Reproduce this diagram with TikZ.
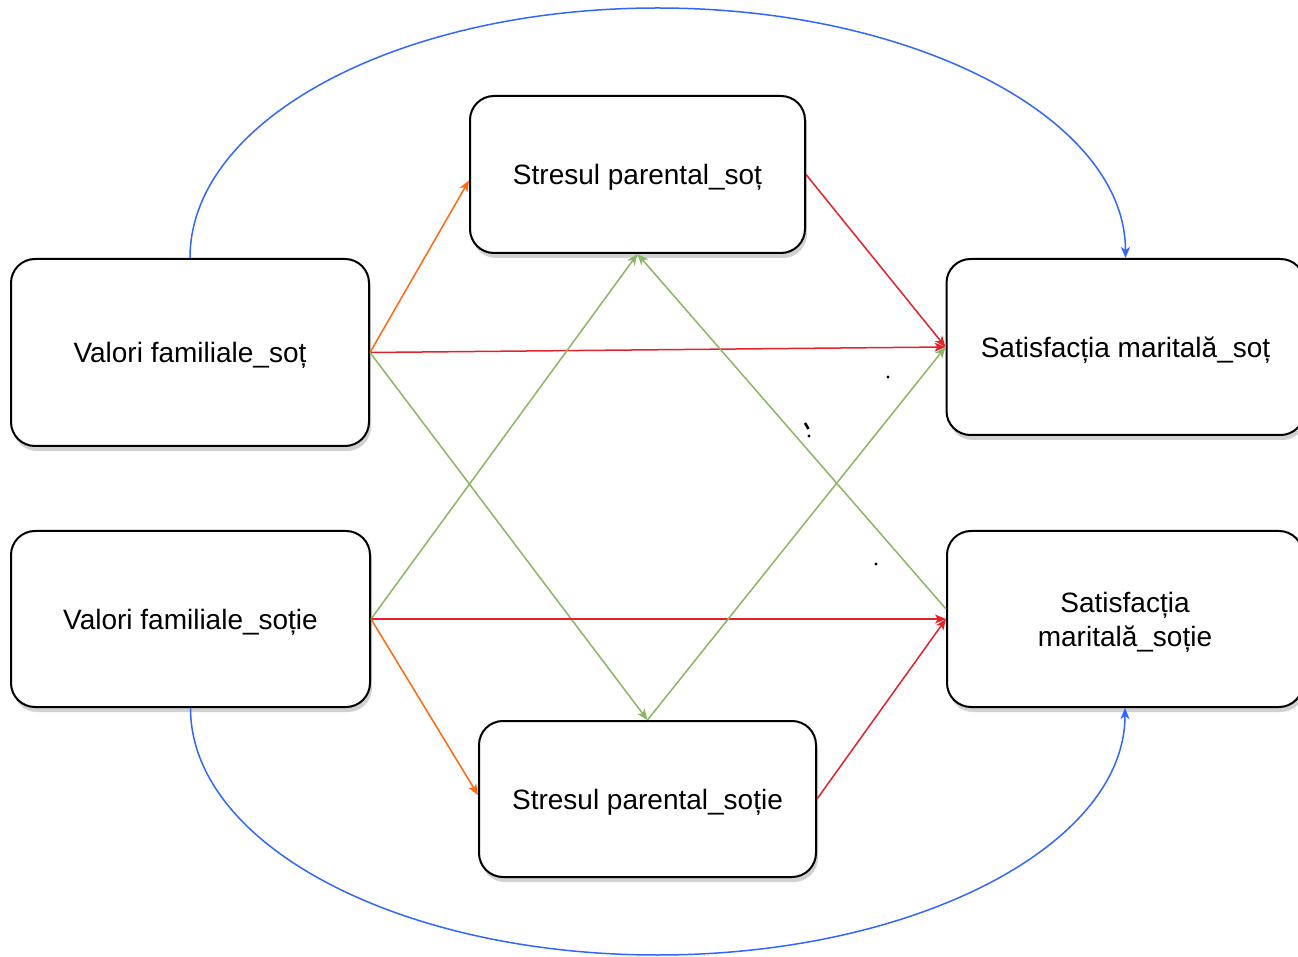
\documentclass[tikz,border=0pt]{standalone}
\usepackage{fontspec}
\setmainfont{Liberation Sans}
\usetikzlibrary{arrows.meta,shadows}
\definecolor{cOrange}{HTML}{FF6A10}
\definecolor{cRed}{HTML}{E3222A}
\definecolor{cGreen}{HTML}{8DB566}
\definecolor{cBlue}{HTML}{3366FF}
\tikzset{
  box/.style={draw=black, line width=1pt, rounded corners=12pt, fill=white,
    drop shadow={shadow xshift=1pt, shadow yshift=-2.5pt, opacity=0.18, fill=black},
    font=\fontsize{14pt}{17pt}\selectfont, align=center, inner sep=0pt, text depth=0pt},
  conn/.style={line width=0.75pt, -{Stealth[length=5.5pt,width=4.5pt,inset=1.5pt]}},
  orangeconn/.style={conn, draw=cOrange, fill=cOrange},
  redconn/.style={conn, draw=cRed, fill=cRed},
  greenconn/.style={conn, draw=cGreen, fill=cGreen},
  blueconn/.style={conn, draw=cBlue, fill=cBlue},
}
\begin{document}
\begin{tikzpicture}[x=0.5pt,y=-0.5pt]
\useasboundingbox (0,0) rectangle (1298,957);
\fill[white] (0,0) rectangle (1298,957);

\node[box, minimum width=179pt, minimum height=93.5pt] (VS) at (190,352.5) {Valori familiale\_soț};
\node[box, minimum width=179.5pt, minimum height=88pt] (VSo) at (190.5,619) {Valori familiale\_soție};
\node[box, minimum width=167.5pt, minimum height=78.5pt] (SPS) at (637.5,174.5) {Stresul parental\_soț};
\node[box, minimum width=168.5pt, minimum height=78pt] (SPSo) at (647.5,799) {Stresul parental\_soție};
\node[box, minimum width=179pt, minimum height=88pt] (SMS) at (1125.5,347) {Satisfacția maritală\_soț};
\node[box, minimum width=178pt, minimum height=88pt] (SMSo) at (1125,619) {Satisfacția\\maritală\_soție};

\coordinate (top) at (657.5,8);
\coordinate (bot) at (657.5,955);

% blue curves
\draw[blueconn, fill=none] (VS.north) .. controls +(0,-139) and +(-258,0) .. (top)
  .. controls +(258,0) and +(0,-139) .. (SMS.north);
\draw[blueconn, fill=none] (VSo.south) .. controls +(0,137) and +(-258,0) .. (bot)
  .. controls +(258,0) and +(0,137) .. (SMSo.south);

% from Valori familiale_sot
\draw[orangeconn] (VS.east) -- ([yshift=-3]SPS.west);
\draw[redconn] (VS.east) -- (SMS.west);
\draw[greenconn] (VS.east) -- (SPSo.north);

% from Valori familiale_sotie
\draw[greenconn] (VSo.east) -- (SPS.south);
\draw[redconn] (VSo.east) -- (SMSo.west);
\draw[orangeconn] (VSo.east) -- ([yshift=2]SPSo.west);

% from stress nodes
\draw[redconn] (SPS.east) -- (SMS.west);
\draw[greenconn] (SPSo.north) -- (SMS.west);
\draw[greenconn] ([yshift=5]SMSo.west) -- (SPS.south);
\draw[redconn] (SPSo.east) -- (SMSo.west);

% stray marks
\fill (888,377) circle[radius=1.6];
\draw[line width=1.3pt] (805,423) -- (808.5,429);
\fill (809,436) circle[radius=1.6];
\fill (876,564) circle[radius=1.6];
\end{tikzpicture}
\end{document}
